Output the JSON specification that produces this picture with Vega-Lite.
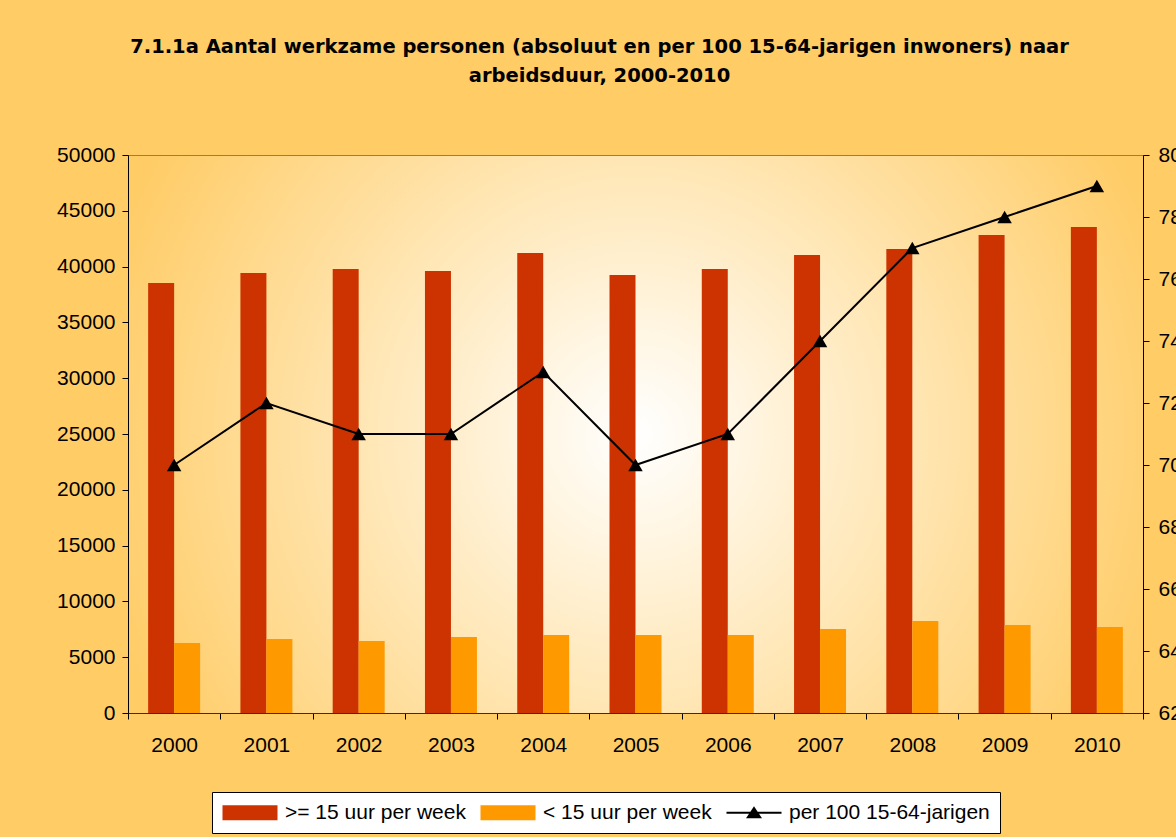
{
  "$schema": "https://vega.github.io/schema/vega-lite/v6.json",
  "width": 1015,
  "height": 558,
  "autosize": {"type": "none"},
  "padding": {"left": 128, "top": 155, "right": 33, "bottom": 124},
  "background": "#FFCC66",
  "title": {
    "text": ["7.1.1a Aantal werkzame personen (absoluut en per 100  15-64-jarigen inwoners) naar", "arbeidsduur, 2000-2010"],
    "font": "DejaVu Sans",
    "fontSize": 19.5,
    "fontWeight": "bold",
    "color": "black",
    "anchor": "middle",
    "frame": "group",
    "dx": -36,
    "offset": 58,
    "lineHeight": 29
  },
  "config": {
    "font": "Liberation Sans",
    "view": {
      "stroke": "#808080",
      "strokeWidth": 1,
      "fill": {
        "gradient": "radial",
        "x1": 0.5, "y1": 0.5, "r1": 0,
        "x2": 0.5, "y2": 0.5, "r2": 0.55,
        "stops": [
          {"offset": 0, "color": "#FFFFFF"},
          {"offset": 1, "color": "#FFCC66"}
        ]
      }
    },
    "axis": {
      "labelFont": "Liberation Sans",
      "labelFontSize": 21,
      "labelColor": "black",
      "domainColor": "black",
      "tickColor": "black",
      "tickSize": 6,
      "grid": false,
      "title": null
    },
    "legend": {
      "orient": "none",
      "legendX": 84,
      "legendY": 637,
      "direction": "horizontal",
      "fillColor": "white",
      "strokeColor": "black",
      "padding": 10,
      "labelFont": "Liberation Sans",
      "labelFontSize": 21,
      "labelColor": "black",
      "labelOffset": 42,
      "labelLimit": 500,
      "columnPadding": 14,
      "symbolSize": 400,
      "symbolStrokeWidth": 0,
      "symbolOpacity": 1
    }
  },
  "datasets": {
    "bars": [
      {"year": "2000", "series": ">= 15 uur per week", "value": 38530},
      {"year": "2000", "series": "< 15 uur per week", "value": 6270},
      {"year": "2001", "series": ">= 15 uur per week", "value": 39430},
      {"year": "2001", "series": "< 15 uur per week", "value": 6630},
      {"year": "2002", "series": ">= 15 uur per week", "value": 39790},
      {"year": "2002", "series": "< 15 uur per week", "value": 6450},
      {"year": "2003", "series": ">= 15 uur per week", "value": 39610},
      {"year": "2003", "series": "< 15 uur per week", "value": 6810},
      {"year": "2004", "series": ">= 15 uur per week", "value": 41220},
      {"year": "2004", "series": "< 15 uur per week", "value": 6990},
      {"year": "2005", "series": ">= 15 uur per week", "value": 39250},
      {"year": "2005", "series": "< 15 uur per week", "value": 6990},
      {"year": "2006", "series": ">= 15 uur per week", "value": 39790},
      {"year": "2006", "series": "< 15 uur per week", "value": 6990},
      {"year": "2007", "series": ">= 15 uur per week", "value": 41040},
      {"year": "2007", "series": "< 15 uur per week", "value": 7530},
      {"year": "2008", "series": ">= 15 uur per week", "value": 41580},
      {"year": "2008", "series": "< 15 uur per week", "value": 8240},
      {"year": "2009", "series": ">= 15 uur per week", "value": 42830},
      {"year": "2009", "series": "< 15 uur per week", "value": 7890},
      {"year": "2010", "series": ">= 15 uur per week", "value": 43550},
      {"year": "2010", "series": "< 15 uur per week", "value": 7710}
    ],
    "line": [
      {"year": "2000", "rate": 70},
      {"year": "2001", "rate": 72},
      {"year": "2002", "rate": 71},
      {"year": "2003", "rate": 71},
      {"year": "2004", "rate": 73},
      {"year": "2005", "rate": 70},
      {"year": "2006", "rate": 71},
      {"year": "2007", "rate": 74},
      {"year": "2008", "rate": 77},
      {"year": "2009", "rate": 78},
      {"year": "2010", "rate": 79}
    ]
  },
  "layer": [
    {
      "data": {"name": "bars"},
      "mark": {"type": "bar"},
      "encoding": {
        "x": {
          "field": "year",
          "type": "nominal",
          "scale": {"paddingInner": 0, "paddingOuter": 0},
          "axis": {"labelAngle": 0, "tickBand": "extent", "labelPadding": 15, "domainColor": "#303030"}
        },
        "xOffset": {
          "field": "series",
          "type": "nominal",
          "sort": [">= 15 uur per week", "< 15 uur per week"],
          "scale": {"domain": [">= 15 uur per week", "< 15 uur per week"], "paddingInner": 0, "paddingOuter": 0.775}
        },
        "y": {
          "field": "value",
          "type": "quantitative",
          "scale": {"domain": [0, 50000], "nice": false},
          "axis": {"values": [0, 5000, 10000, 15000, 20000, 25000, 30000, 35000, 40000, 45000, 50000], "format": "d", "labelPadding": 7}
        },
        "color": {
          "field": "series",
          "type": "nominal",
          "scale": {
            "domain": [">= 15 uur per week", "< 15 uur per week", "per 100 15-64-jarigen"],
            "range": ["#CC3300", "#FF9900", "#000000"]
          },
          "legend": {
            "title": null,
            "encode": {
              "symbols": {
                "update": {
                  "shape": {"signal": "datum.value === 'per 100 15-64-jarigen' ? 'M-1,-0.1H4.5V0.1H-1Z M1.75,-0.65L2.55,0.55H0.95Z' : 'M-1,-0.75H4.5V0.75H-1Z'"}
                }
              }
            }
          }
        }
      }
    },
    {
      "data": {"name": "line"},
      "encoding": {
        "x": {"field": "year", "type": "nominal"},
        "y": {
          "field": "rate",
          "type": "quantitative",
          "scale": {"domain": [62, 80], "nice": false, "zero": false},
          "axis": {"orient": "right", "values": [62, 64, 66, 68, 70, 72, 74, 76, 78, 80], "labelPadding": 9}
        }
      },
      "layer": [
        {"mark": {"type": "line", "color": "black", "strokeWidth": 2}},
        {"mark": {"type": "point", "shape": "triangle-up", "filled": true, "color": "black", "opacity": 1, "size": 210}}
      ]
    }
  ],
  "resolve": {"scale": {"y": "independent"}}
}
